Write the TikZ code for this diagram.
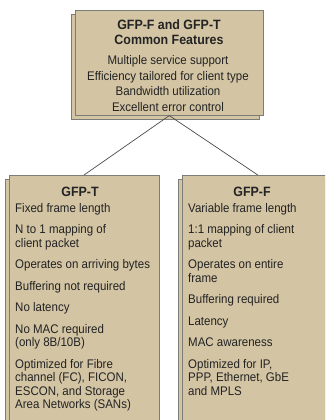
\documentclass[tikz,border=0pt]{standalone}
\usepackage{fontspec}
\setmainfont{Liberation Sans}[FakeStretch=0.92]
\usetikzlibrary{shadows}
\definecolor{tanfill}{RGB}{211,196,164}
\definecolor{edgegray}{RGB}{125,125,120}
\definecolor{ink}{RGB}{35,35,35}
\begin{document}
\begin{tikzpicture}[x=1pt,y=1pt,
  box/.style={draw=edgegray, line width=0.6pt, fill=tanfill, inner sep=0pt, anchor=north west,
    copy shadow={shadow xshift=-4pt, shadow yshift=-4.5pt}},
  ttl/.style={font=\fontsize{13.5}{15}\selectfont\bfseries, text=ink, inner sep=0pt, anchor=base, align=center},
  body/.style={font=\fontsize{12.5}{13.4}\selectfont, text=ink, inner sep=0pt, align=left, anchor=base west},
  link/.style={draw=black!70, line width=0.7pt}]
\useasboundingbox (0,0) rectangle (325,420);
\clip (0,0) rectangle (325,420);
\fill[white] (0,0) rectangle (325,420);
% top box
\node[box, minimum width=188pt, minimum height=105pt] (top) at (75,410) {};
\node[ttl] (toptitle) at (169,375) {GFP-F and GFP-T\\Common Features};
\node[body, align=center, anchor=base, font=\fontsize{12.5}{15.6}\selectfont] (topbody) at (168,308.7)
  {Multiple service support\\Efficiency tailored for client type\\Bandwidth utilization\\Excellent error control};
% left box
\node[box, minimum width=150.5pt, minimum height=260pt] (gfpt) at (8.5,245) {};
\node[ttl] (ttlT) at (80,223.5) {GFP-T};
\node[body] (bodyT) at (15,11.5) {Fixed frame length\\[8.1pt]
  N to 1 mapping of\\client packet\\[8.1pt]
  Operates on arriving bytes\\[8.1pt]
  Buffering not required\\[8.1pt]
  No latency\\[8.1pt]
  No MAC required\\(only 8B/10B)\\[8.1pt]
  Optimized for Fibre\\channel (FC), FICON,\\ESCON, and Storage\\Area Networks (SANs)};
% right box
\node[box, minimum width=151pt, minimum height=260pt] (gfpf) at (182,245) {};
\node[ttl] (ttlF) at (252,223.5) {GFP-F};
\node[body] (bodyF) at (188,24.9) {Variable frame length\\[8.1pt]
  1:1 mapping of client\\packet\\[8.1pt]
  Operates on entire\\frame\\[8.1pt]
  Buffering required\\[8.1pt]
  Latency\\[8.1pt]
  MAC awareness\\[8.1pt]
  Optimized for IP,\\PPP, Ethernet, GbE\\and MPLS};
% connectors
\draw[link] (top.south) -- (gfpt.north);
\draw[link] (top.south) -- (gfpf.north);
\end{tikzpicture}
\end{document}
